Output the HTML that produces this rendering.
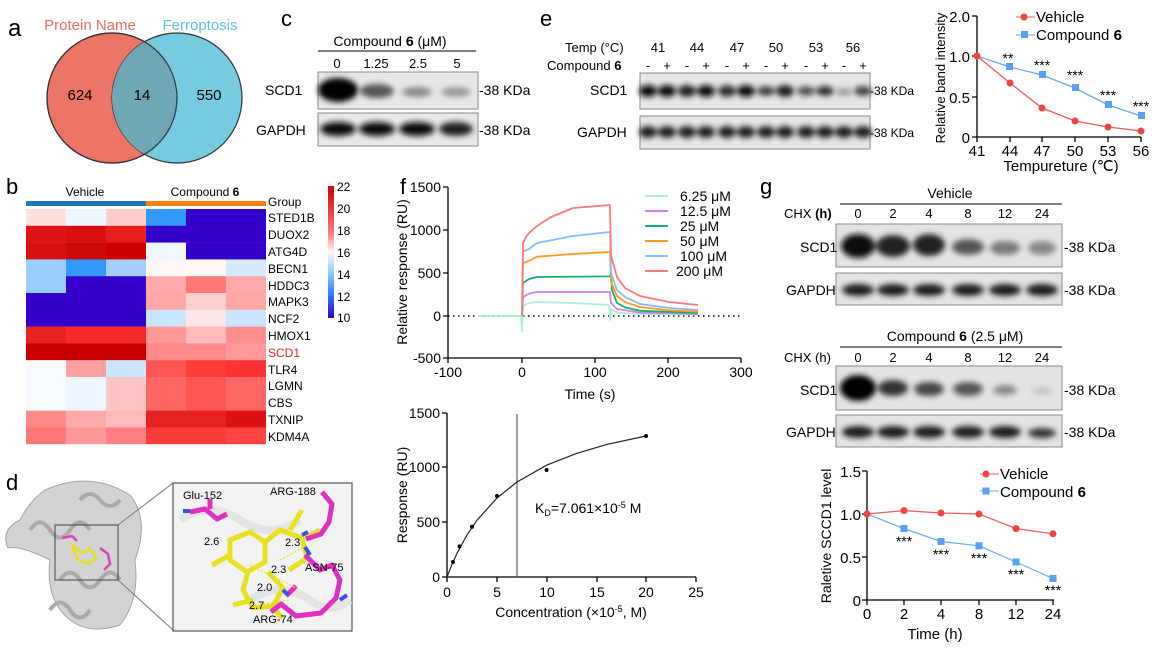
<!DOCTYPE html>
<html><head><meta charset="utf-8"><style>
body{margin:0;background:#fff}
svg{display:block;font-family:"Liberation Sans",Arial,sans-serif}
</style></head><body>
<svg width="1153" height="648" viewBox="0 0 1153 648" xmlns="http://www.w3.org/2000/svg">
<defs>
<filter id="bl" x="-30%" y="-60%" width="160%" height="220%"><feGaussianBlur stdDeviation="3"/></filter>
</defs>
<!-- a -->
<text x="8" y="36" font-size="24">a</text>
<circle cx="112" cy="98" r="65" fill="#ec7565" stroke="#333" stroke-width="1.2"/>
<circle cx="177" cy="98" r="65" fill="#76cbdf" stroke="#333" stroke-width="1.2"/>
<clipPath id="cl"><circle cx="112" cy="98" r="65"/></clipPath>
<circle cx="177" cy="98" r="65" fill="#6fa7b5" clip-path="url(#cl)"/>
<circle cx="112" cy="98" r="65" fill="none" stroke="#333" stroke-width="1.2"/>
<text x="90" y="30" font-size="15" fill="#ee6a6a" text-anchor="middle">Protein Name</text>
<text x="200" y="30" font-size="15" fill="#5cc4d2" text-anchor="middle">Ferroptosis</text>
<text x="80" y="100" font-size="15" text-anchor="middle">624</text>
<text x="142" y="100" font-size="15" text-anchor="middle">14</text>
<text x="209" y="100" font-size="15" text-anchor="middle">550</text>
<!-- c -->
<text x="281" y="26" font-size="22">c</text>
<text x="390" y="46" font-size="14" text-anchor="middle">Compound <tspan font-weight="bold">6</tspan> (μM)</text>
<line x1="318" y1="51" x2="476" y2="51" stroke="#000"/>
<g font-size="13" text-anchor="middle"><text x="337" y="68">0</text><text x="376" y="68">1.25</text><text x="418" y="68">2.5</text><text x="457" y="68">5</text></g>
<rect x="318" y="72" width="160" height="37" fill="#e8e8e8" stroke="#888"/>
<g filter="url(#bl)"><ellipse cx="338" cy="90" rx="20" ry="12" fill="#000"/><ellipse cx="377" cy="91" rx="17" ry="7" fill="#555"/><ellipse cx="417" cy="92" rx="15" ry="5" fill="#888"/><ellipse cx="456" cy="92" rx="15" ry="5" fill="#999"/></g>
<rect x="318" y="113" width="160" height="33" fill="#e8e8e8" stroke="#888"/>
<g filter="url(#bl)"><ellipse cx="338" cy="129" rx="18" ry="7" fill="#111"/><ellipse cx="377" cy="129" rx="18" ry="7" fill="#111"/><ellipse cx="417" cy="129" rx="18" ry="7" fill="#111"/><ellipse cx="456" cy="129" rx="17" ry="7" fill="#222"/></g>
<text x="265" y="95" font-size="14">SCD1</text><text x="256" y="135" font-size="14">GAPDH</text>
<text x="479" y="95" font-size="14">-38 KDa</text><text x="479" y="135" font-size="14">-38 KDa</text>
<!-- e blot -->
<text x="540" y="26" font-size="22">e</text>
<g font-size="13"><text x="565" y="52">Temp (°C)</text><text x="547" y="70">Compound <tspan font-weight="bold">6</tspan></text></g>
<g font-size="13" text-anchor="middle"><text x="658" y="52">41</text><text x="697" y="52">44</text><text x="737" y="52">47</text><text x="776" y="52">50</text><text x="816" y="52">53</text><text x="853" y="52">56</text>
<text x="648" y="70">-</text><text x="667" y="70">+</text><text x="687" y="70">-</text><text x="706" y="70">+</text><text x="727" y="70">-</text><text x="746" y="70">+</text><text x="766" y="70">-</text><text x="785" y="70">+</text><text x="806" y="70">-</text><text x="825" y="70">+</text><text x="844" y="70">-</text><text x="863" y="70">+</text></g>
<rect x="640" y="73" width="230" height="36" fill="#e6e6e6" stroke="#888"/>
<g filter="url(#bl)"><ellipse cx="648" cy="91" rx="9" ry="6" fill="#111"/><ellipse cx="667" cy="91" rx="9" ry="6" fill="#111"/><ellipse cx="687" cy="91" rx="9" ry="6" fill="#222"/><ellipse cx="706" cy="91" rx="9" ry="6" fill="#111"/><ellipse cx="727" cy="91" rx="9" ry="6" fill="#333"/><ellipse cx="746" cy="91" rx="9" ry="6" fill="#111"/><ellipse cx="766" cy="91" rx="9" ry="5" fill="#444"/><ellipse cx="785" cy="91" rx="9" ry="6" fill="#222"/><ellipse cx="806" cy="91" rx="9" ry="5" fill="#555"/><ellipse cx="825" cy="91" rx="9" ry="5" fill="#333"/><ellipse cx="844" cy="92" rx="8" ry="4" fill="#999"/><ellipse cx="863" cy="91" rx="9" ry="5" fill="#444"/></g>
<rect x="640" y="116" width="230" height="33" fill="#e6e6e6" stroke="#888"/>
<g filter="url(#bl)" fill="#222"><ellipse cx="648" cy="132" rx="9" ry="6"/><ellipse cx="667" cy="132" rx="9" ry="6"/><ellipse cx="687" cy="132" rx="9" ry="6"/><ellipse cx="706" cy="132" rx="9" ry="6"/><ellipse cx="727" cy="132" rx="9" ry="6"/><ellipse cx="746" cy="132" rx="9" ry="6"/><ellipse cx="766" cy="132" rx="9" ry="6"/><ellipse cx="785" cy="132" rx="9" ry="6"/><ellipse cx="806" cy="132" rx="9" ry="6"/><ellipse cx="825" cy="132" rx="9" ry="6"/><ellipse cx="844" cy="132" rx="9" ry="6"/><ellipse cx="863" cy="132" rx="9" ry="6"/></g>
<text x="590" y="95" font-size="14">SCD1</text><text x="577" y="137" font-size="14">GAPDH</text>
<text x="870" y="95" font-size="12">-38 KDa</text><text x="870" y="137" font-size="12">-38 KDa</text>
<!-- e chart -->
<g stroke="#000" stroke-width="1.3" fill="none"><path d="M977 16V137H1141"/>
<path d="M972 16h5M972 56h5M972 97h5M972 137h5M977 137v5M1010 137v5M1042 137v5M1075 137v5M1108 137v5M1141 137v5"/></g>
<g font-size="15" text-anchor="end"><text x="970" y="22">2.0</text><text x="970" y="62">1.0</text><text x="970" y="103">0.5</text><text x="970" y="143">0</text></g>
<g font-size="15" text-anchor="middle"><text x="977" y="156">41</text><text x="1010" y="156">44</text><text x="1042" y="156">47</text><text x="1075" y="156">50</text><text x="1108" y="156">53</text><text x="1141" y="156">56</text></g>
<text x="1061" y="171" font-size="15" text-anchor="middle">Tempureture (℃)</text>
<text transform="translate(945,78) rotate(-90)" font-size="13" text-anchor="middle">Relative band intensity</text>
<polyline points="977,56 1010,83 1042,108 1075,121 1108,127 1141,131" fill="none" stroke="#f05a5a" stroke-width="1.3"/>
<polyline points="977,56 1010,67 1042,75 1075,88 1108,105 1141,116" fill="none" stroke="#6aa8f0" stroke-width="1.3"/>
<g fill="#f04444"><circle cx="977" cy="56" r="3.5"/><circle cx="1010" cy="83" r="3.5"/><circle cx="1042" cy="108" r="3.5"/><circle cx="1075" cy="121" r="3.5"/><circle cx="1108" cy="127" r="3.5"/><circle cx="1141" cy="131" r="3.5"/></g>
<g fill="#5aa0f0"><rect x="1006" y="63" width="7" height="7"/><rect x="1039" y="71" width="7" height="7"/><rect x="1072" y="84" width="7" height="7"/><rect x="1105" y="101" width="7" height="7"/><rect x="1138" y="112" width="7" height="7"/></g>
<g font-size="14" text-anchor="middle"><text x="1008" y="63">**</text><text x="1042" y="70">***</text><text x="1075" y="80">***</text><text x="1108" y="100">***</text><text x="1141" y="111">***</text></g>
<line x1="1016" y1="17" x2="1035" y2="17" stroke="#f05a5a"/><circle cx="1024" cy="17" r="3.5" fill="#f04444"/>
<text x="1036" y="22" font-size="15">Vehicle</text>
<line x1="1016" y1="35" x2="1035" y2="35" stroke="#6aa8f0"/><rect x="1021" y="31" width="7" height="7" fill="#5aa0f0"/>
<text x="1036" y="40" font-size="15">Compound <tspan font-weight="bold">6</tspan></text>
<!-- b -->
<text x="6" y="194" font-size="22">b</text>
<text x="85" y="196" font-size="12" text-anchor="middle">Vehicle</text>
<text x="205" y="196" font-size="12" text-anchor="middle">Compound <tspan font-weight="bold">6</tspan></text>
<rect x="26" y="201" width="120" height="5" fill="#1f77b4"/><rect x="146" y="201" width="120" height="5" fill="#ff7f0e"/>
<text x="268" y="206" font-size="12">Group</text>
<g transform="translate(26,209)">
<rect x="0" y="0" width="40" height="17" fill="#ffdede"/><rect x="40" y="0" width="40" height="17" fill="#eef6ff"/><rect x="80" y="0" width="40" height="17" fill="#ffcccc"/><rect x="120" y="0" width="40" height="17" fill="#3399ff"/><rect x="160" y="0" width="80" height="17" fill="#3300cc"/>
<rect x="0" y="16.8" width="40" height="17" fill="#dd1515"/><rect x="40" y="16.8" width="40" height="17" fill="#d81010"/><rect x="80" y="16.8" width="40" height="17" fill="#e81e1e"/><rect x="120" y="16.8" width="120" height="17" fill="#3300cc"/>
<rect x="0" y="33.6" width="40" height="17" fill="#d81010"/><rect x="40" y="33.6" width="40" height="17" fill="#cc0a0a"/><rect x="80" y="33.6" width="40" height="17" fill="#cc0000"/><rect x="120" y="33.6" width="40" height="17" fill="#f0f7ff"/><rect x="160" y="33.6" width="80" height="17" fill="#3300cc"/>
<rect x="0" y="50.4" width="40" height="17" fill="#99ccff"/><rect x="40" y="50.4" width="40" height="17" fill="#3399ff"/><rect x="80" y="50.4" width="40" height="17" fill="#a6d1ff"/><rect x="120" y="50.4" width="80" height="17" fill="#fff6f6"/><rect x="200" y="50.4" width="40" height="17" fill="#d6e9ff"/>
<rect x="0" y="67.2" width="40" height="17" fill="#99ccff"/><rect x="40" y="67.2" width="80" height="17" fill="#3300cc"/><rect x="120" y="67.2" width="40" height="17" fill="#ffaaaa"/><rect x="160" y="67.2" width="40" height="17" fill="#ff7777"/><rect x="200" y="67.2" width="40" height="17" fill="#ffaaaa"/>
<rect x="0" y="84" width="120" height="17" fill="#3300cc"/><rect x="120" y="84" width="40" height="17" fill="#ffa6a6"/><rect x="160" y="84" width="40" height="17" fill="#ffd0d0"/><rect x="200" y="84" width="40" height="17" fill="#ffa6a6"/>
<rect x="0" y="100.8" width="120" height="17" fill="#3300cc"/><rect x="120" y="100.8" width="40" height="17" fill="#cce5ff"/><rect x="160" y="100.8" width="40" height="17" fill="#ffe6e6"/><rect x="200" y="100.8" width="40" height="17" fill="#cce5ff"/>
<rect x="0" y="117.6" width="40" height="17" fill="#e82222"/><rect x="40" y="117.6" width="80" height="17" fill="#f52a2a"/><rect x="120" y="117.6" width="40" height="17" fill="#ff9999"/><rect x="160" y="117.6" width="40" height="17" fill="#ffbbbb"/><rect x="200" y="117.6" width="40" height="17" fill="#ff8f8f"/>
<rect x="0" y="134.4" width="120" height="17" fill="#cc0000"/><rect x="120" y="134.4" width="80" height="17" fill="#ff8888"/><rect x="200" y="134.4" width="40" height="17" fill="#ff9999"/>
<rect x="0" y="151.2" width="40" height="17" fill="#f8fbff"/><rect x="40" y="151.2" width="40" height="17" fill="#ffa0a0"/><rect x="80" y="151.2" width="40" height="17" fill="#cce5ff"/><rect x="120" y="151.2" width="40" height="17" fill="#ff5555"/><rect x="160" y="151.2" width="40" height="17" fill="#ff3c3c"/><rect x="200" y="151.2" width="40" height="17" fill="#ff3333"/>
<rect x="0" y="168" width="40" height="34" fill="#f8fbff"/><rect x="40" y="168" width="40" height="34" fill="#eef6ff"/><rect x="80" y="168" width="40" height="34" fill="#ffc4c4"/><rect x="120" y="168" width="40" height="34" fill="#ff6666"/><rect x="160" y="168" width="40" height="34" fill="#ff5555"/><rect x="200" y="168" width="40" height="34" fill="#ff6666"/>
<rect x="0" y="201.6" width="40" height="17" fill="#ff8888"/><rect x="40" y="201.6" width="40" height="17" fill="#ffaaaa"/><rect x="80" y="201.6" width="40" height="17" fill="#ffbbbb"/><rect x="120" y="201.6" width="80" height="17" fill="#e62222"/><rect x="200" y="201.6" width="40" height="17" fill="#dd1111"/>
<rect x="0" y="218.4" width="40" height="16.8" fill="#ff7777"/><rect x="40" y="218.4" width="40" height="16.8" fill="#ff9999"/><rect x="80" y="218.4" width="40" height="16.8" fill="#ff8080"/><rect x="120" y="218.4" width="80" height="16.8" fill="#ff3c3c"/><rect x="200" y="218.4" width="40" height="16.8" fill="#ff4444"/>
</g>
<g font-size="12"><text x="268" y="222">STED1B</text><text x="268" y="239">DUOX2</text><text x="268" y="256">ATG4D</text><text x="268" y="273">BECN1</text><text x="268" y="290">HDDC3</text><text x="268" y="306">MAPK3</text><text x="268" y="323">NCF2</text><text x="268" y="340">HMOX1</text><text x="268" y="357" fill="#ee2222">SCD1</text><text x="268" y="374">TLR4</text><text x="268" y="390">LGMN</text><text x="268" y="407">CBS</text><text x="268" y="424">TXNIP</text><text x="268" y="441">KDM4A</text></g>
<linearGradient id="cb" x1="0" y1="0" x2="0" y2="1"><stop offset="0" stop-color="#cc0000"/><stop offset="0.35" stop-color="#ff7777"/><stop offset="0.5" stop-color="#fff4f4"/><stop offset="0.65" stop-color="#99ccff"/><stop offset="0.8" stop-color="#3388ff"/><stop offset="1" stop-color="#3300cc"/></linearGradient>
<rect x="328" y="186" width="6" height="132" fill="url(#cb)"/>
<g font-size="12"><text x="337" y="191">22</text><text x="337" y="213">20</text><text x="337" y="235">18</text><text x="337" y="257">16</text><text x="337" y="279">14</text><text x="337" y="301">12</text><text x="337" y="322">10</text></g>
<!-- d -->
<text x="6" y="490" font-size="22">d</text>
<g fill="#cfcfcf" stroke="#9a9a9a" stroke-width="1" opacity="0.9">
<path d="M45 490 Q90 470 130 495 Q150 520 135 560 Q140 600 120 625 Q90 635 70 620 Q45 600 50 560 Q20 545 8 548 Q0 530 20 520 Q30 500 45 490Z"/>
</g>
<g fill="none" stroke="#aaa" stroke-width="4"><path d="M30 530 q10 -15 20 0 q10 15 20 0 q10 -15 20 0"/><path d="M60 580 q10 -15 20 0 q10 15 20 0 q10 -15 20 0"/><path d="M50 610 q10 -15 20 0 q10 15 20 0"/><path d="M80 500 q10 -12 20 0 q10 12 20 0"/></g>
<rect x="55" y="525" width="63" height="55" fill="none" stroke="#444"/>
<g stroke-width="2.5" fill="none"><path d="M72 545 l10 8 l8 -5 l6 10 l-8 6 l-10 -4z" stroke="#e6e020"/><path d="M62 538 l10 -2 l5 5" stroke="#e040c0"/><path d="M100 548 l8 6 l2 10 l-6 6" stroke="#e040c0"/></g>
<line x1="118" y1="525" x2="173" y2="483" stroke="#777"/><line x1="118" y1="580" x2="173" y2="630" stroke="#777"/>
<rect x="173" y="483" width="179" height="148" fill="#f3f3f3" stroke="#555" stroke-width="1.2"/>
<g fill="none" stroke="#e4e4e4" stroke-width="8"><path d="M180 520 q30 -20 60 0 q30 20 60 0"/><path d="M250 600 q30 -20 60 0 q20 15 40 0"/></g>
<g stroke="#e6e020" stroke-width="5" fill="none" stroke-linejoin="round">
<path d="M230 540 l20 -8 l15 10 l0 20 l-18 10 l-17 -12z"/><path d="M265 542 l15 -12 l22 8 l5 20 l-18 12"/><path d="M248 572 l-5 18 l10 18 l20 -2 l10 -18 l-15 -16"/><path d="M230 555 l-18 10"/><path d="M253 600 l-20 5"/><path d="M272 606 l10 12"/><path d="M290 530 l12 -20"/><path d="M305 538 l15 -8"/></g>
<g stroke="#e030c0" stroke-width="5" fill="none" stroke-linejoin="round"><path d="M190 512 l15 -3 l12 10 l10 -5"/><path d="M210 509 l0 -10"/><path d="M322 492 l10 12 l-3 18 l-8 12 l-15 5"/><path d="M305 555 l15 15 l12 -5 l8 15 l-4 18 l-15 15 l-25 3 l-15 -12 l-10 8"/><path d="M286 596 l10 -10"/></g>
<g stroke="#3355ee" stroke-width="4" fill="none"><path d="M183 511 l7 0"/><path d="M302 535 l6 -3"/><path d="M310 555 l-5 -8"/><path d="M288 595 l-5 -5"/><path d="M340 600 l7 -5"/></g>
<g stroke="#e6e020" stroke-dasharray="2 2" stroke-width="1.2"><line x1="250" y1="565" x2="300" y2="590"/><line x1="255" y1="605" x2="290" y2="600"/><line x1="280" y1="560" x2="302" y2="548"/></g>
<g font-size="11"><text x="183" y="499">Glu-152</text><text x="270" y="495">ARG-188</text><text x="204" y="545">2.6</text><text x="285" y="546">2.3</text><text x="271" y="573">2.3</text><text x="305" y="571">ASN-75</text><text x="257" y="591">2.0</text><text x="249" y="609">2.7</text><text x="253" y="623">ARG-74</text></g>
<!-- f top -->
<text x="400" y="194" font-size="22">f</text>
<g stroke="#000" stroke-width="1.3" fill="none"><path d="M448 187V358H741"/>
<path d="M443 187h5M443 230h5M443 273h5M443 316h5M443 358h5M448 358v5M522 358v5M595 358v5M668 358v5M741 358v5"/></g>
<line x1="448" y1="316" x2="741" y2="316" stroke="#000" stroke-dasharray="1.5 3.5" stroke-width="1.5"/>
<g font-size="14" text-anchor="end"><text x="441" y="192">1500</text><text x="441" y="235">1000</text><text x="441" y="278">500</text><text x="441" y="321">0</text><text x="441" y="363">-500</text></g>
<g font-size="14" text-anchor="middle"><text x="448" y="377">-100</text><text x="522" y="377">0</text><text x="595" y="377">100</text><text x="668" y="377">200</text><text x="741" y="377">300</text></g>
<text x="590" y="399" font-size="14" text-anchor="middle">Time (s)</text>
<text transform="translate(407,272) rotate(-90)" font-size="14" text-anchor="middle">Relative response (RU)</text>
<g fill="none" stroke-width="1.8" stroke-linejoin="round">
<path stroke="#a8f0d8" d="M478 316L521 316L522 331L523 306L529 303L537 302L573 303L609 305L610 320L611 309L617 312.6L640 314L698 314.7"/>
<path stroke="#d080f0" d="M522 316L523 297L529 293.6L537 292L610 292L611 303L617 309L640 312.6L698 314"/>
<path stroke="#18b060" d="M522 316L523 283L529 279L537 277L610 276.4L611 272L612 290L617 303L625 307.4L640 310.8L698 313"/>
<path stroke="#ff9922" d="M522 316L523 262.7L529 261L537 256.7L573 254L610 252L611 281.6L617 296L625 302L640 307L669 310.4L698 311.7"/>
<path stroke="#88bbff" d="M522 316L523 251.5L529 249L537 243L573 236L610 232L611 273L617 290L625 297L640 304L669 308L698 310"/>
<path stroke="#ff7777" d="M522 316L523 243L526 237L529 233L537 226L551 217L573 208L610 205L611 256L617 277L625 288L640 296L669 302L698 305"/>
</g>
<g font-size="14"><text x="680" y="201">6.25 μM</text><text x="680" y="216">12.5 μM</text><text x="680" y="231">25 μM</text><text x="680" y="246">50 μM</text><text x="680" y="261">100 μM</text><text x="676" y="276">200 μM</text></g>
<g stroke-width="2"><line x1="645" y1="196" x2="668" y2="196" stroke="#a8f0d8"/><line x1="645" y1="211" x2="668" y2="211" stroke="#d080f0"/><line x1="645" y1="226" x2="668" y2="226" stroke="#18b060"/><line x1="645" y1="241" x2="668" y2="241" stroke="#ff9922"/><line x1="645" y1="256" x2="668" y2="256" stroke="#88bbff"/><line x1="645" y1="271" x2="668" y2="271" stroke="#ff7777"/></g>
<!-- f bottom -->
<g stroke="#000" stroke-width="1.3" fill="none"><path d="M447 413V577H696"/>
<path d="M442 413h5M442 467h5M442 522h5M442 577h5M447 577v5M497 577v5M547 577v5M597 577v5M646 577v5M696 577v5"/></g>
<line x1="517" y1="414" x2="517" y2="577" stroke="#444"/>
<g font-size="14" text-anchor="end"><text x="440" y="418">1500</text><text x="440" y="472">1000</text><text x="440" y="527">500</text><text x="440" y="582">0</text></g>
<g font-size="14" text-anchor="middle"><text x="447" y="597">0</text><text x="497" y="597">5</text><text x="547" y="597">10</text><text x="597" y="597">15</text><text x="646" y="597">20</text><text x="696" y="597">25</text></g>
<text x="571" y="617" font-size="14" text-anchor="middle">Concentration (×10<tspan font-size="9" dy="-5">-5</tspan><tspan dy="5">, M)</tspan></text>
<text transform="translate(407,495) rotate(-90)" font-size="14" text-anchor="middle">Response (RU)</text>
<path d="M447 577L452 564.4L457 553.4L467 534.9L477 520.2L497 498L517 482L546.6 465.2L576.5 453.4L606.4 444.6L646 436" fill="none" stroke="#222" stroke-width="1.2"/>
<g fill="#000"><circle cx="453" cy="562" r="2"/><circle cx="459.5" cy="546.4" r="2"/><circle cx="472" cy="526.7" r="2"/><circle cx="497" cy="496" r="2"/><circle cx="546.6" cy="470" r="2"/><circle cx="646" cy="436" r="2"/></g>
<text x="535" y="513" font-size="14">K<tspan font-size="9" dy="3">D</tspan><tspan dy="-3">=7.061×10</tspan><tspan font-size="9" dy="-5">-5</tspan><tspan dy="5"> M</tspan></text>
<!-- g blots -->
<text x="760" y="194" font-size="22">g</text>
<text x="950" y="198" font-size="14" text-anchor="middle">Vehicle</text>
<line x1="840" y1="204" x2="1062" y2="204" stroke="#000"/>
<g font-size="13" text-anchor="middle"><text x="858" y="218">0</text><text x="893" y="218">2</text><text x="929" y="218">4</text><text x="968" y="218">8</text><text x="1005" y="218">12</text><text x="1042" y="218">24</text>
<text x="858" y="362">0</text><text x="893" y="362">2</text><text x="929" y="362">4</text><text x="968" y="362">8</text><text x="1005" y="362">12</text><text x="1042" y="362">24</text></g>
<text x="784" y="218" font-size="13">CHX <tspan font-weight="bold">(h)</tspan></text>
<text x="784" y="362" font-size="13">CHX (h)</text>
<rect x="836" y="224" width="226" height="43" fill="#e4e4e4" stroke="#888"/>
<g filter="url(#bl)"><ellipse cx="858" cy="246" rx="17" ry="12" fill="#111"/><ellipse cx="893" cy="246" rx="17" ry="11" fill="#222"/><ellipse cx="929" cy="245" rx="16" ry="11" fill="#222"/><ellipse cx="968" cy="247" rx="16" ry="8" fill="#555"/><ellipse cx="1005" cy="248" rx="15" ry="7" fill="#777"/><ellipse cx="1042" cy="248" rx="14" ry="7" fill="#888"/></g>
<rect x="836" y="273" width="226" height="32" fill="#e4e4e4" stroke="#888"/>
<g filter="url(#bl)" fill="#1a1a1a"><ellipse cx="858" cy="290" rx="16" ry="6"/><ellipse cx="893" cy="290" rx="16" ry="6"/><ellipse cx="929" cy="290" rx="16" ry="6"/><ellipse cx="968" cy="290" rx="16" ry="6"/><ellipse cx="1005" cy="290" rx="16" ry="6"/><ellipse cx="1042" cy="290" rx="16" ry="6"/></g>
<text x="800" y="252" font-size="14">SCD1</text><text x="786" y="295" font-size="14">GAPDH</text>
<text x="1064" y="252" font-size="14">-38 KDa</text><text x="1064" y="295" font-size="14">-38 KDa</text>
<text x="955" y="341" font-size="14" text-anchor="middle">Compound <tspan font-weight="bold">6</tspan> (2.5 μM)</text>
<line x1="840" y1="347" x2="1062" y2="347" stroke="#000"/>
<rect x="836" y="366" width="226" height="44" fill="#e4e4e4" stroke="#888"/>
<g filter="url(#bl)"><ellipse cx="858" cy="388" rx="18" ry="13" fill="#000"/><ellipse cx="893" cy="388" rx="15" ry="8" fill="#333"/><ellipse cx="929" cy="389" rx="15" ry="7" fill="#444"/><ellipse cx="968" cy="389" rx="15" ry="7" fill="#555"/><ellipse cx="1005" cy="390" rx="12" ry="5" fill="#888"/><ellipse cx="1042" cy="391" rx="10" ry="3" fill="#bbb"/></g>
<rect x="836" y="415" width="226" height="32" fill="#e4e4e4" stroke="#888"/>
<g filter="url(#bl)" fill="#1a1a1a"><ellipse cx="858" cy="432" rx="16" ry="6"/><ellipse cx="893" cy="432" rx="16" ry="6"/><ellipse cx="929" cy="432" rx="16" ry="6"/><ellipse cx="968" cy="432" rx="16" ry="6"/><ellipse cx="1005" cy="432" rx="16" ry="6"/><ellipse cx="1042" cy="433" rx="14" ry="5" fill="#333"/></g>
<text x="800" y="395" font-size="14">SCD1</text><text x="786" y="437" font-size="14">GAPDH</text>
<text x="1064" y="395" font-size="14">-38 KDa</text><text x="1064" y="437" font-size="14">-38 KDa</text>
<!-- g chart -->
<g stroke="#000" stroke-width="1.3" fill="none"><path d="M867 471V600H1054"/>
<path d="M862 471h5M862 514h5M862 557h5M862 600h5M867 600v5M904 600v5M941 600v5M979 600v5M1016 600v5M1053 600v5"/></g>
<g font-size="15" text-anchor="end"><text x="861" y="477">1.5</text><text x="861" y="520">1.0</text><text x="861" y="563">0.5</text><text x="861" y="606">0</text></g>
<g font-size="15" text-anchor="middle"><text x="867" y="619">0</text><text x="904" y="619">2</text><text x="941" y="619">4</text><text x="979" y="619">8</text><text x="1016" y="619">12</text><text x="1053" y="619">24</text></g>
<text x="935" y="639" font-size="15" text-anchor="middle">Time (h)</text>
<text transform="translate(831,536) rotate(-90)" font-size="14" text-anchor="middle">Raletive SCCD1 level</text>
<polyline points="867,514 904,510.6 941,513 979,514 1016,528.6 1053,533.8" fill="none" stroke="#f05a5a" stroke-width="1.2"/>
<polyline points="867,514 904,528.6 941,541.5 979,545.8 1016,562 1053,578.5" fill="none" stroke="#6aa8f0" stroke-width="1.2"/>
<g fill="#f04444"><circle cx="867" cy="514" r="3.5"/><circle cx="904" cy="510.6" r="3.5"/><circle cx="941" cy="513" r="3.5"/><circle cx="979" cy="514" r="3.5"/><circle cx="1016" cy="528.6" r="3.5"/><circle cx="1053" cy="533.8" r="3.5"/></g>
<g fill="#5aa0f0"><rect x="900.5" y="525" width="7" height="7"/><rect x="937.5" y="538" width="7" height="7"/><rect x="975.5" y="542.3" width="7" height="7"/><rect x="1012.5" y="558.5" width="7" height="7"/><rect x="1049.5" y="575" width="7" height="7"/></g>
<g font-size="14" text-anchor="middle"><text x="904" y="546">***</text><text x="941" y="559">***</text><text x="979" y="563">***</text><text x="1016" y="579">***</text><text x="1053" y="595">***</text></g>
<line x1="980" y1="474" x2="999" y2="474" stroke="#f05a5a"/><circle cx="986" cy="474" r="3.5" fill="#f04444"/>
<text x="1000" y="479" font-size="15">Vehicle</text>
<line x1="980" y1="491" x2="999" y2="491" stroke="#6aa8f0"/><rect x="982.5" y="487.5" width="7" height="7" fill="#5aa0f0"/>
<text x="1000" y="497" font-size="15">Compound <tspan font-weight="bold">6</tspan></text>
</svg>
</body></html>
